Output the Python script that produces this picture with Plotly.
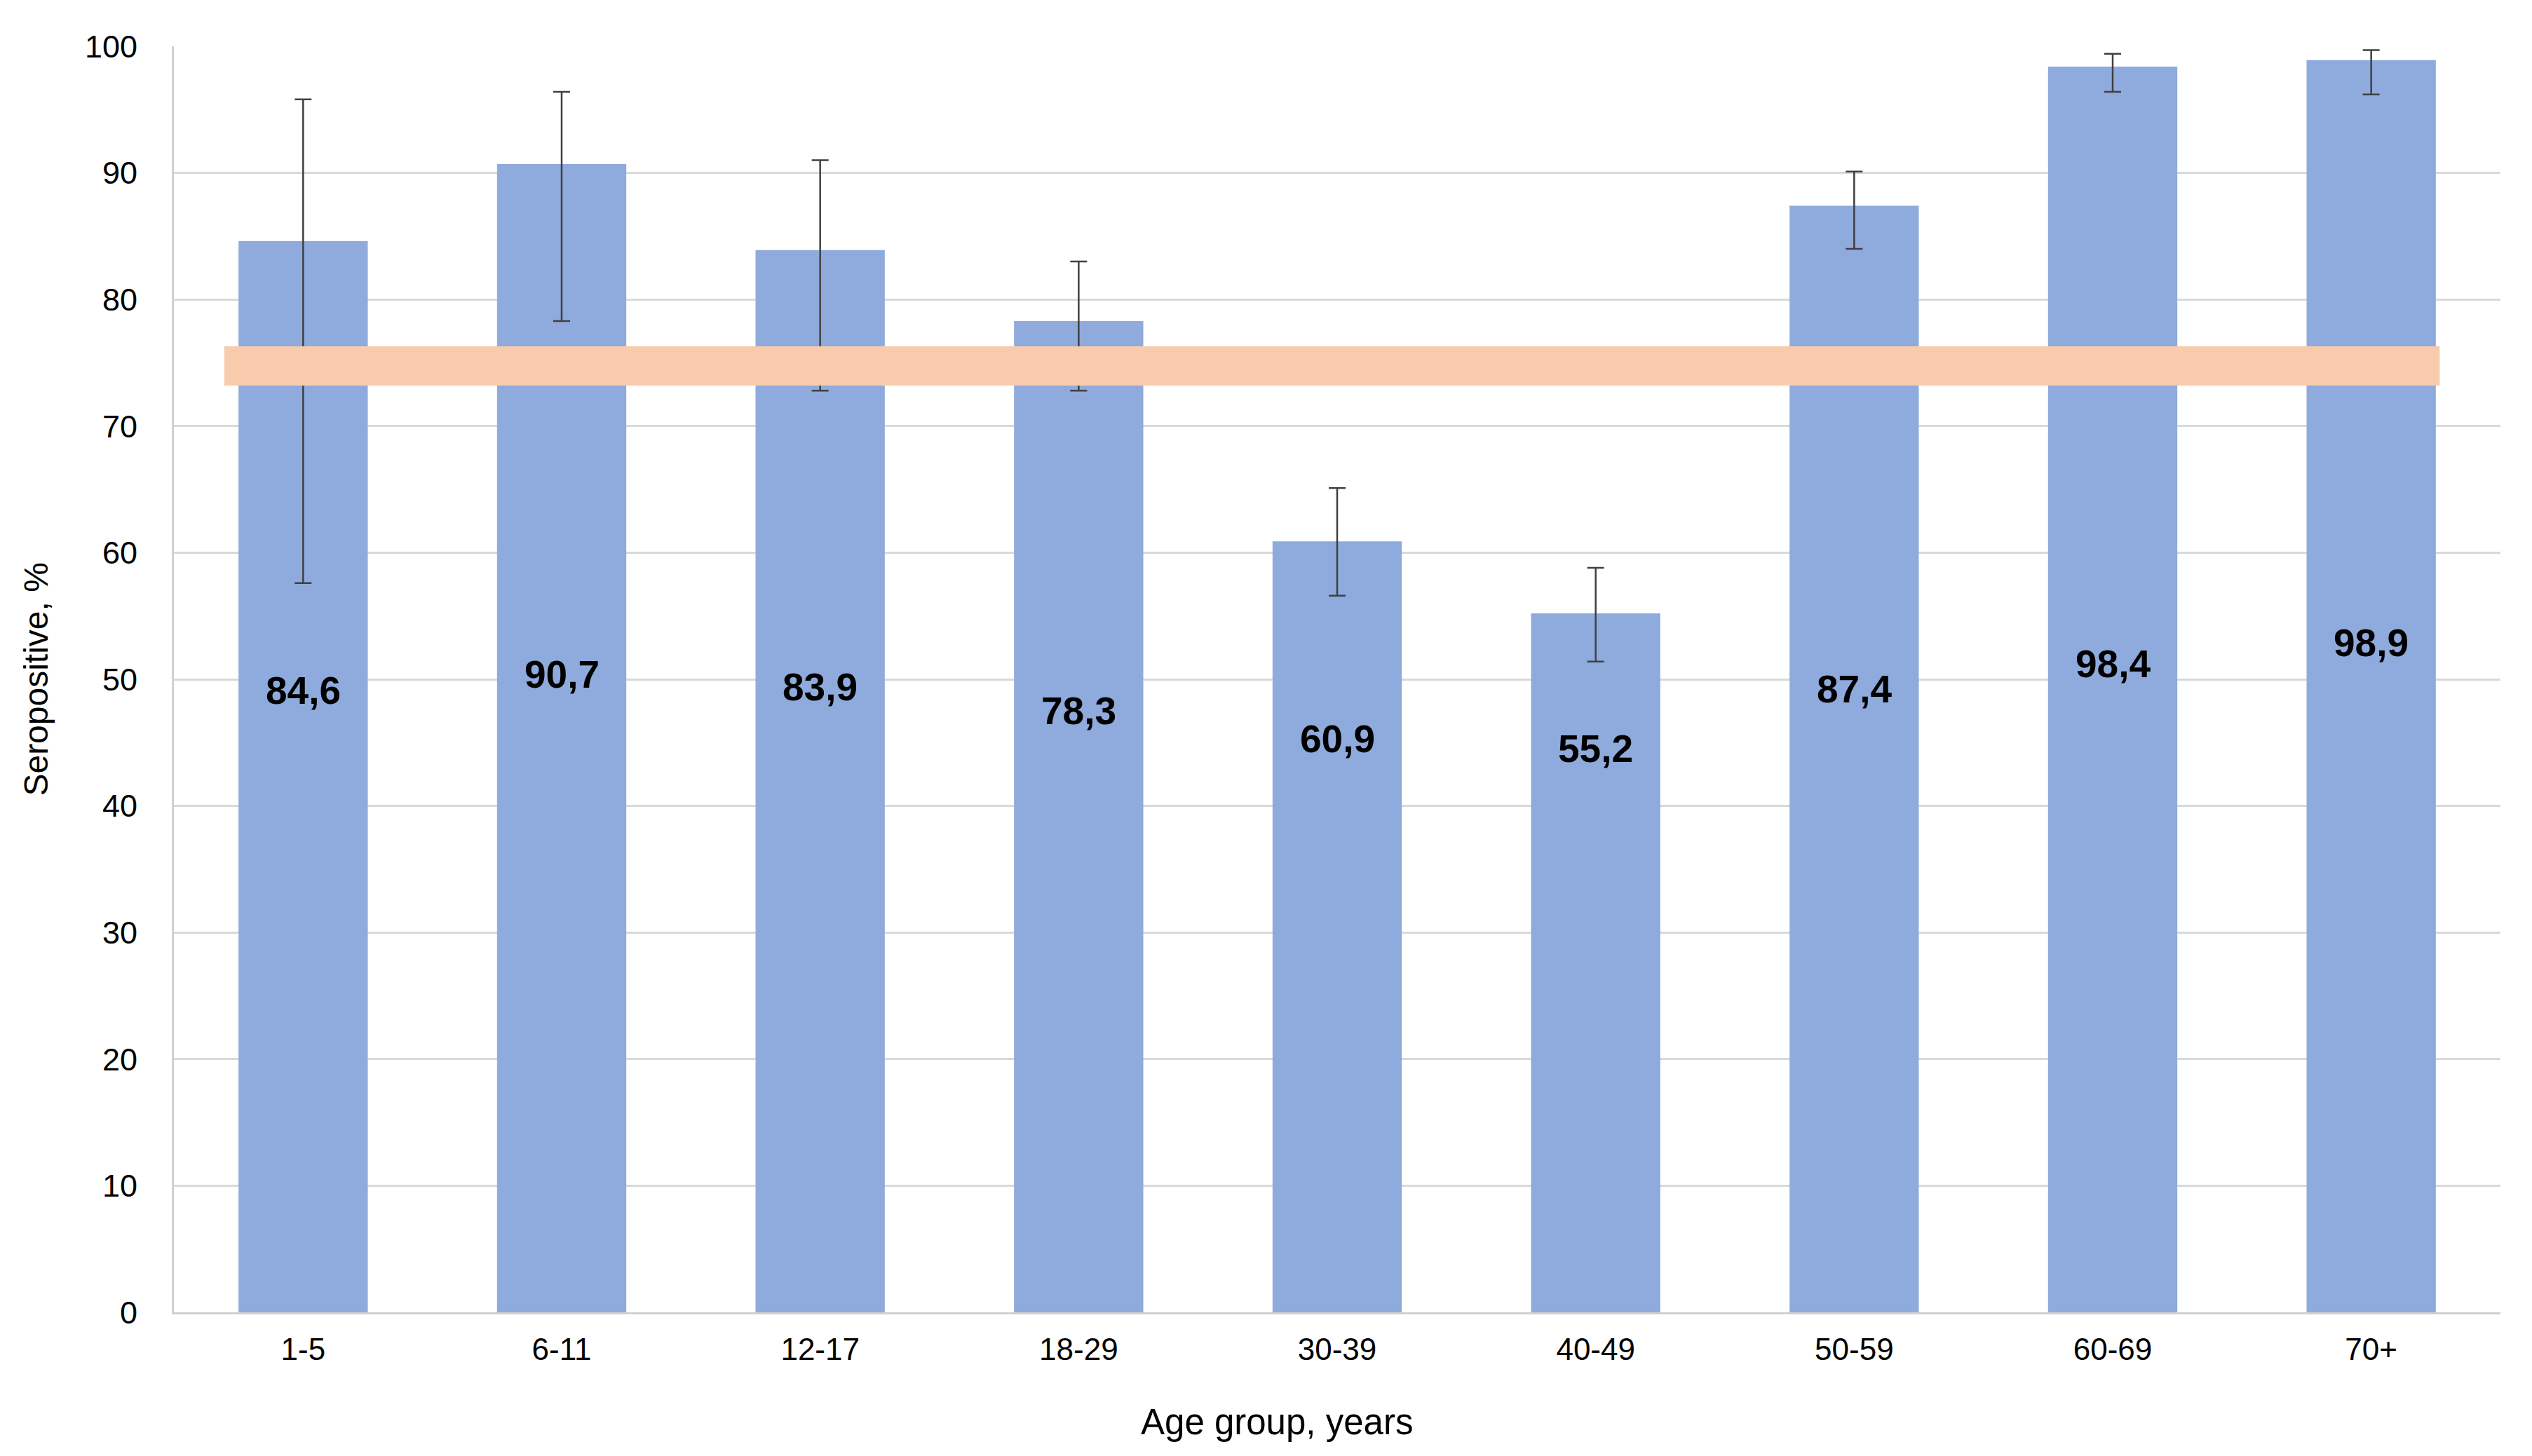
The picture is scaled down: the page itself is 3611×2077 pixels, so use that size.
import plotly.graph_objects as go

# ---- data ----
age_groups = ["1-5", "6-11", "12-17", "18-29", "30-39", "40-49", "50-59", "60-69", "70+"]
seropositive = [84.6, 90.7, 83.9, 78.3, 60.9, 55.2, 87.4, 98.4, 98.9]
ci_upper = [95.8, 96.4, 91.0, 83.0, 65.1, 58.8, 90.1, 99.4, 99.7]
ci_lower = [57.6, 78.3, 72.8, 72.8, 56.6, 51.4, 84.0, 96.4, 96.2]
labels = ["84,6", "90,7", "83,9", "78,3", "60,9", "55,2", "87,4", "98,4", "98,9"]
threshold_low = 73.2
threshold_high = 76.3

# label vertical placement (layout, as positioned in the reference)
label_y = [49.1, 50.4, 49.4, 47.5, 45.3, 44.5, 49.2, 51.2, 52.9]

FONT = "Liberation Sans, Arial, sans-serif"

err_plus = [u - v for u, v in zip(ci_upper, seropositive)]
err_minus = [v - l for v, l in zip(seropositive, ci_lower)]

fig = go.Figure()
fig.add_trace(go.Bar(
    x=age_groups,
    y=seropositive,
    width=0.5,
    marker=dict(color="#8FAADC", line=dict(width=0)),
    error_y=dict(type="data", symmetric=False, array=err_plus, arrayminus=err_minus,
                 color="#404040", thickness=2.5, width=12),
    showlegend=False,
    hoverinfo="skip",
))

# threshold band
fig.add_shape(type="rect", xref="x", yref="y", x0=-0.305, x1=8.265,
              y0=threshold_low, y1=threshold_high,
              fillcolor="#F8CBAD", line=dict(width=0), layer="above")

annotations = []
for cat, ly, txt in zip(age_groups, label_y, labels):
    annotations.append(dict(x=cat, y=ly, xref="x", yref="y", text=f"<b>{txt}</b>",
                            showarrow=False, font=dict(family=FONT, size=55, color="#000000")))

annotations.append(dict(x=0.474, y=-0.0865, xref="paper", yref="paper",
                        text="Age group, years", showarrow=False,
                        xanchor="center", yanchor="middle",
                        font=dict(family=FONT, size=51, color="#000000")))
annotations.append(dict(x=-0.0595, y=0.5, xref="paper", yref="paper",
                        text="Seropositive, %", showarrow=False, textangle=-90,
                        xanchor="center", yanchor="middle",
                        font=dict(family=FONT, size=48, color="#000000")))

fig.update_layout(
    width=3611, height=2077,
    margin=dict(l=240, r=53, t=58, b=213),
    paper_bgcolor="white", plot_bgcolor="white",
    annotations=annotations,
    font=dict(family=FONT, color="#000000"),
)
fig.update_xaxes(
    type="category", range=[-0.5, 8.5],
    showline=True, linecolor="#D0D0D0", linewidth=3,
    showgrid=False, ticks="", ticklabelstandoff=12,
    tickfont=dict(family=FONT, size=44, color="#000000"),
)
fig.update_yaxes(
    range=[0, 100], dtick=10, tick0=0,
    showline=True, linecolor="#D0D0D0", linewidth=3,
    showgrid=True, gridcolor="#D9D9D9", gridwidth=3,
    zeroline=False, ticks="", ticklabelstandoff=40,
    tickfont=dict(family=FONT, size=45, color="#000000"),
)

fig.write_html("out.html")
